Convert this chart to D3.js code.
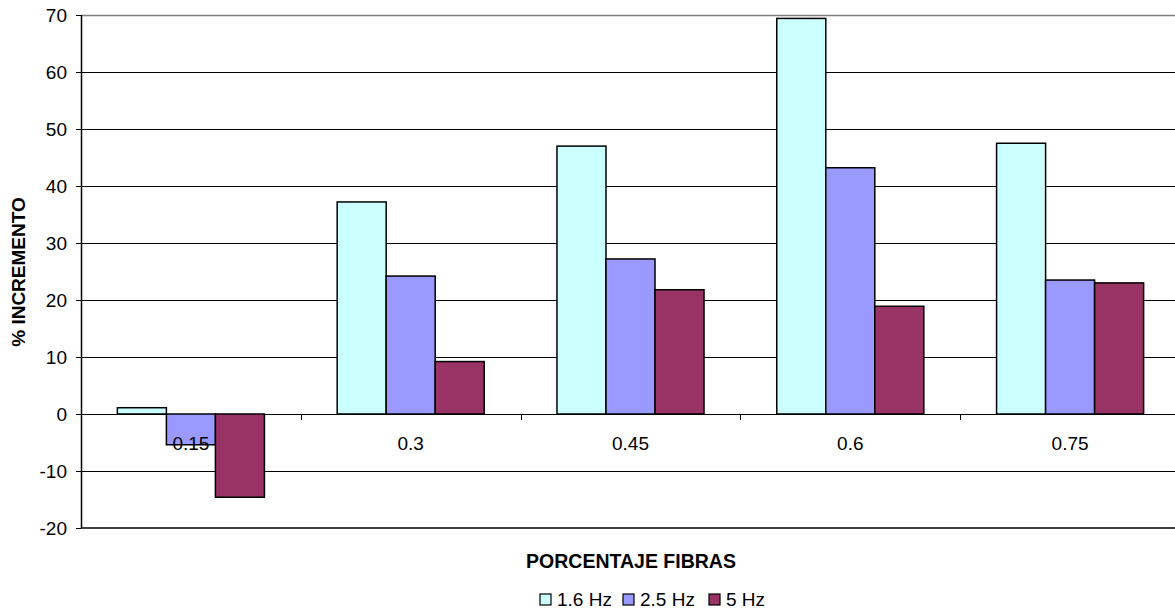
<!DOCTYPE html>
<html><head><meta charset="utf-8">
<script src="https://cdn.jsdelivr.net/npm/d3@7"></script>
<style>body{margin:0;background:#fff}svg{display:block}text{font-family:"Liberation Sans",Arial,sans-serif}</style>
</head><body><svg id="c" width="1175" height="613"></svg>
<script>
const categories = ["0.15","0.3","0.45","0.6","0.75"];
const seriesNames = ["1.6 Hz","2.5 Hz","5 Hz"];
const s16 = [1.1, 37.2, 47.0, 69.4, 47.5];
const s25 = [-5.4, 24.2, 27.2, 43.2, 23.5];
const s5  = [-14.6, 9.2, 21.8, 18.9, 23.0];
const yTicks = [-20,-10,0,10,20,30,40,50,60,70];
const colors = ["#CCFFFF","#9999FF","#993366"];
const series = [s16, s25, s5];

const svg = d3.select("#c");
const L = 81, R = 1180, T = 15, B = 528;
const y = d3.scaleLinear().domain([-20,70]).range([B,T]);
const x = d3.scaleBand().domain(categories).range([L,R]).paddingInner(0).paddingOuter(0);
const bw = x.bandwidth();
const groupW = bw*0.669;
const xs = d3.scaleBand().domain(seriesNames).range([0,groupW]).padding(0);

// grid
svg.append("g").selectAll("line").data(yTicks.filter(t=>t!==-20)).join("line")
  .attr("x1",L).attr("x2",R).attr("y1",d=>Math.round(y(d))+0.5).attr("y2",d=>Math.round(y(d))+0.5)
  .attr("stroke",d=>d===70?"#808080":"#000").attr("stroke-width",d=>d===70?1.5:1);

// bars
series.forEach((s,i)=>{
  svg.append("g").selectAll("rect").data(s).join("rect")
    .attr("x",(d,j)=>x(categories[j])+(bw-groupW)/2+xs(seriesNames[i]))
    .attr("width",xs.bandwidth())
    .attr("y",d=>y(Math.max(0,d)))
    .attr("height",d=>Math.abs(y(d)-y(0)))
    .attr("fill",colors[i]).attr("stroke","#000").attr("stroke-width",1.5);
});

// y axis
const ya = d3.axisLeft(y).tickValues(yTicks).tickSize(5).tickPadding(9).tickFormat(d=>String(d));
const gy = svg.append("g").attr("transform",`translate(${L},0)`).call(ya);
gy.select(".domain").attr("stroke","#000").attr("stroke-width",1.5).attr("d",`M0.5,${T}V${B}`);
gy.selectAll("text").attr("font-size",19).attr("fill","#000").attr("font-family","Liberation Sans, Arial, sans-serif");
gy.selectAll(".tick line").attr("stroke","#000");

// bottom line
svg.append("line").attr("x1",L).attr("x2",R).attr("y1",B).attr("y2",B).attr("stroke","#000").attr("stroke-width",1.5);

// category axis at zero
const xa = d3.axisBottom(x).tickSize(0).tickPadding(23);
const gx = svg.append("g").attr("transform",`translate(0,${y(0)})`).call(xa);
gx.select(".domain").remove();
gx.selectAll("text").attr("font-size",19).attr("fill","#000").attr("font-family","Liberation Sans, Arial, sans-serif");
svg.append("g").selectAll("line").data(categories.slice(1)).join("line")
  .attr("x1",d=>Math.round(x(d))+0.5).attr("x2",d=>Math.round(x(d))+0.5)
  .attr("y1",y(0)).attr("y2",y(0)+6).attr("stroke","#000");

// titles
svg.append("text").attr("x",631).attr("y",568).attr("text-anchor","middle")
  .attr("font-size",19.5).attr("font-weight","bold").text("PORCENTAJE FIBRAS");
svg.append("text").attr("transform",`translate(25,272) rotate(-90)`).attr("text-anchor","middle")
  .attr("font-size",19).attr("font-weight","bold").text("% INCREMENTO");

// legend
const lx = [540, 623, 709];
const lg = svg.append("g").selectAll("g").data(seriesNames).join("g")
  .attr("transform",(d,i)=>`translate(${lx[i]},594)`);
lg.append("rect").attr("width",11).attr("height",11).attr("fill",(d,i)=>colors[i]).attr("stroke","#000").attr("stroke-width",1.2);
lg.append("text").attr("x",17).attr("y",12).attr("font-size",19).text(d=>d);
</script></body></html>
